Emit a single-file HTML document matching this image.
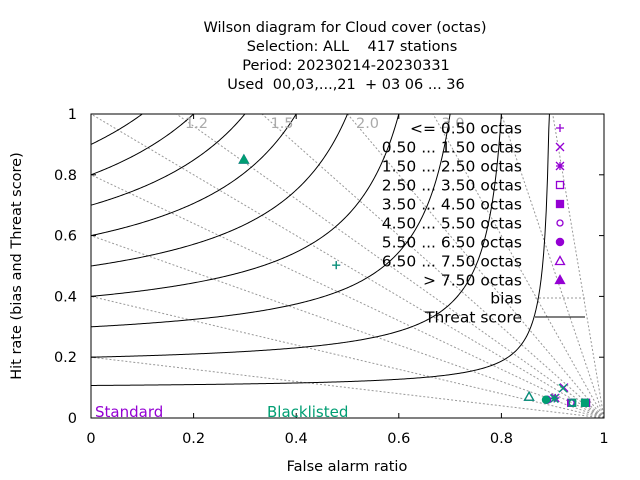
<!DOCTYPE html>
<html><head><meta charset="utf-8"><style>
html,body{margin:0;padding:0;background:#fff}
svg{display:block;font-family:"DejaVu Sans","Liberation Sans",sans-serif}
</style></head><body>
<svg id="c" width="640" height="480" viewBox="0 0 640 480">
<g font-size="14.5" text-anchor="middle" fill="#000">
<text x="345" y="32">Wilson diagram  for Cloud cover (octas)</text>
<text x="352" y="51" xml:space="preserve">Selection: ALL    417 stations</text>
<text x="346" y="70">Period: 20230214-20230331</text>
<text x="346" y="89" xml:space="preserve">Used  00,03,...,21  + 03 06 ... 36</text>
</g>
<g id="grid"></g>
<g id="marks"></g>
<rect x="91" y="114" width="513" height="304" fill="none" stroke="#000" stroke-width="1"/>
<text x="347" y="471" font-size="14.5" text-anchor="middle">False alarm ratio</text>
<text transform="translate(21,266) rotate(-90)" font-size="14.5" text-anchor="middle">Hit rate (bias and Threat score)</text>
<text x="95" y="417" font-size="15" fill="#9400d3">Standard</text>
<text x="267" y="417" font-size="15" fill="#009e73">Blacklisted</text>
</svg>
<script>
const biasValues=[0.2,0.4,0.6,0.8,1.0,1.2,1.5,2.0,3.0,5.0,10.0];
const biasLabels=["1.2","1.5","2.0","3.0"];
const tsValues=[0.107,0.2,0.3,0.4,0.5,0.6,0.7,0.8,0.9];
const xTicks=[0,0.2,0.4,0.6,0.8,1];
const yTicks=[0,0.2,0.4,0.6,0.8,1];
const categories=["<= 0.50 octas","0.50 ... 1.50 octas","1.50 ... 2.50 octas","2.50 ... 3.50 octas","3.50 ... 4.50 octas","4.50 ... 5.50 octas","5.50 ... 6.50 octas","6.50 ... 7.50 octas","> 7.50 octas"];
const symbols=["plus","cross","star","square","fsquare","circle","fcircle","triangle","ftriangle"];
const stdFAR=[0.478,0.922,0.905,0.936,0.965,0.936,0.889,0.854,0.298];
const stdHit=[0.503,0.10,0.066,0.05,0.05,0.05,0.06,0.07,0.85];
const blkFAR=[0.478,0.920,0.903,0.938,0.963,0.938,0.887,0.854,0.298];
const blkHit=[0.503,0.098,0.064,0.05,0.05,0.05,0.06,0.07,0.85];

const NS="http://www.w3.org/2000/svg";
const X0=91,X1=604,Y0=418,Y1=114;
const sx=v=>X0+v*(X1-X0), sy=v=>Y0-v*(Y0-Y1);
const grid=document.getElementById('grid'), marks=document.getElementById('marks');
function mk(tag,attrs,parent){const e=document.createElementNS(NS,tag);for(const k in attrs)e.setAttribute(k,attrs[k]);parent.appendChild(e);return e;}

const defs=mk('defs',{},grid);const cp=mk('clipPath',{id:'pc'},defs);mk('rect',{x:X0,y:Y1,width:X1-X0,height:Y0-Y1},cp);
const gc=mk('g',{'clip-path':'url(#pc)'},grid);

biasValues.forEach((b,i)=>{
  let x2,y2;
  if(b<=1){x2=0;y2=b;}else{x2=1-1/b;y2=1;}
  const l=mk('line',{x1:sx(1),y1:sy(0),x2:sx(x2),y2:sy(y2),stroke:'#999','stroke-width':1,'stroke-dasharray':'2,2'},gc);
  
  
});
biasLabels.forEach(s=>{
  const b=parseFloat(s);
  const t=mk('text',{x:sx(1-1/b)+20,y:sy(1)+14,'font-size':14.5,fill:'#aaa','text-anchor':'middle'},grid);
  t.textContent=s;
  
  
});
tsValues.forEach(T=>{
  let d='';
  for(let k=0;k<=400;k++){
    const F=k/400*0.9999;
    const inv=1/T-1/(1-F)+1;
    let H=inv>0?1/inv:2;
    if(H>1.05||inv<=0)H=1.05;
    d+=(k?'L':'M')+sx(F).toFixed(2)+','+sy(H).toFixed(2);
    if(H>=1.05)break;
  }
  const p=mk('path',{d:d,fill:'none',stroke:'#000','stroke-width':1},gc);
  
  
});
xTicks.forEach(v=>{
  mk('line',{x1:sx(v),y1:Y0,x2:sx(v),y2:Y0-5,stroke:'#000'},grid);
  mk('line',{x1:sx(v),y1:Y1,x2:sx(v),y2:Y1+5,stroke:'#000'},grid);
  const t=mk('text',{x:sx(v),y:443,'font-size':14.5,'text-anchor':'middle'},grid);
  t.textContent=String(v);
  
  
});
yTicks.forEach(v=>{
  mk('line',{x1:X0,y1:sy(v),x2:X0+5,y2:sy(v),stroke:'#000'},grid);
  mk('line',{x1:X1,y1:sy(v),x2:X1-5,y2:sy(v),stroke:'#000'},grid);
  const t=mk('text',{x:77,y:sy(v)+5,'font-size':14.5,'text-anchor':'end'},grid);
  t.textContent=String(v);
  
  
});
function sym(type,x,y,c,parent){
  const g=mk('g',{stroke:c,fill:'none','stroke-width':1.3},parent);const r=4;
  if(type==='plus'){mk('path',{d:`M${x-r},${y}H${x+r}M${x},${y-r}V${y+r}`},g);}
  else if(type==='cross'){mk('path',{d:`M${x-r},${y-r}L${x+r},${y+r}M${x-r},${y+r}L${x+r},${y-r}`},g);}
  else if(type==='star'){mk('path',{d:`M${x-r},${y}H${x+r}M${x},${y-r}V${y+r}M${x-r},${y-r}L${x+r},${y+r}M${x-r},${y+r}L${x+r},${y-r}`},g);}
  else if(type==='square'){mk('rect',{x:x-3.5,y:y-3.5,width:7,height:7},g);}
  else if(type==='fsquare'){mk('rect',{x:x-3.5,y:y-3.5,width:7,height:7,fill:c},g);}
  else if(type==='circle'){mk('circle',{cx:x,cy:y,r:3},g);}
  else if(type==='fcircle'){mk('circle',{cx:x,cy:y,r:3.6,fill:c},g);}
  else if(type==='triangle'){mk('path',{d:`M${x},${y-4.5}L${x+4.5},${y+3.5}L${x-4.5},${y+3.5}Z`},g);}
  else {mk('path',{d:`M${x},${y-4.5}L${x+4.5},${y+3.5}L${x-4.5},${y+3.5}Z`,fill:c},g);}
  return g;
}
categories.forEach((c,i)=>{
  const a=sym(symbols[i],sx(stdFAR[i]),sy(stdHit[i]),'#9400d3',marks);
  
  
  const b=sym(symbols[i],sx(blkFAR[i]),sy(blkHit[i]),'#009e73',marks);
  
  
});
const lg=mk('g',{},marks);


categories.forEach((c,i)=>{
  const y=128+i*19;
  const tx=mk('text',{x:522,y:y+5.5,'font-size':15.5,'text-anchor':'end'},lg);
  tx.textContent=c;
  
  
  sym(symbols[i],560,y,'#9400d3',lg);
});
const bt=mk('text',{x:522,y:303.5,'font-size':15.5,'text-anchor':'end'},lg);bt.textContent='bias';


mk('line',{x1:535,y1:298,x2:585,y2:298,stroke:'#999','stroke-dasharray':'2,2'},lg);
const tt=mk('text',{x:522,y:322.5,'font-size':15.5,'text-anchor':'end'},lg);tt.textContent='Threat score';


mk('line',{x1:535,y1:317,x2:585,y2:317,stroke:'#000'},lg);
</script>
</body></html>
